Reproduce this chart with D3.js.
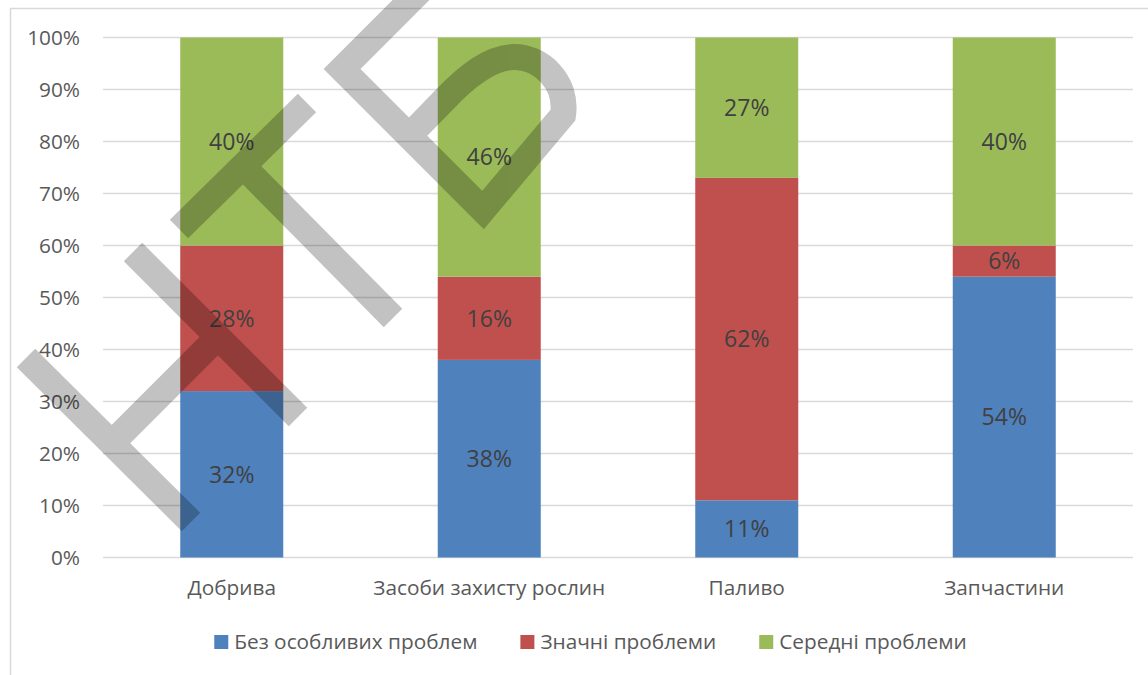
<!DOCTYPE html>
<html>
<head>
<meta charset="utf-8">
<script src="https://cdn.jsdelivr.net/npm/d3@7"></script>
<style>
  html, body { margin: 0; padding: 0; background: #fff; }
  svg { display: block; }
  text { font-family: "Open Sans", "Noto Sans", sans-serif; }
</style>
</head>
<body>
<svg id="chart" width="1148" height="675"></svg>
<script>
// ---- data ----
const categories = ["Добрива", "Засоби захисту рослин", "Паливо", "Запчастини"];
const seriesNames = ["Без особливих проблем", "Значні проблеми", "Середні проблеми"];
const noProblems = [32, 38, 11, 54];
const significantProblems = [28, 16, 62, 6];
const mediumProblems = [40, 46, 27, 40];
const yTickValues = [0, 10, 20, 30, 40, 50, 60, 70, 80, 90, 100];
const seriesColors = ["#4F81BD", "#C0504D", "#9BBB59"];

const rows = categories.map((c, i) => ({
  category: c,
  s0: noProblems[i],
  s1: significantProblems[i],
  s2: mediumProblems[i]
}));
const keys = ["s0", "s1", "s2"];

const svg = d3.select("#chart");
const W = 1148, H = 675;
const plot = { left: 103, right: 1133, top: 37.5, bottom: 557.5 };

// chart border
svg.append("rect")
  .attr("x", 10.5).attr("y", 8.5)
  .attr("width", W + 40).attr("height", H + 40)
  .attr("fill", "#fff").attr("stroke", "#d9d9d9").attr("stroke-width", 1.5);

const x = d3.scaleBand().domain(categories)
  .range([plot.left, plot.right]).paddingInner(0.6).paddingOuter(0.3);
const y = d3.scaleLinear().domain([0, 100]).range([plot.bottom, plot.top]);

// gridlines
svg.append("g").selectAll("line").data(yTickValues).join("line")
  .attr("x1", plot.left).attr("x2", plot.right)
  .attr("y1", d => y(d)).attr("y2", d => y(d))
  .attr("stroke", "#d9d9d9").attr("stroke-width", 1.5);

// y axis labels
const yAxis = d3.axisLeft(y).tickValues(yTickValues).tickFormat(d => d + "%").tickSize(0).tickPadding(0);
const yg = svg.append("g").attr("transform", "translate(80,0)").call(yAxis);
yg.select(".domain").remove();
yg.selectAll("text")
  .attr("font-family", "'Open Sans', sans-serif")
  .attr("font-size", 20.8).attr("fill", "#595959").attr("dy", "0.35em");

// bars
const stacked = d3.stack().keys(keys)(rows);
const layers = svg.append("g").selectAll("g").data(stacked).join("g")
  .attr("fill", (d, i) => seriesColors[i]);
layers.selectAll("rect").data(d => d).join("rect")
  .attr("x", d => x(d.data.category))
  .attr("width", x.bandwidth())
  .attr("y", d => y(d[1]))
  .attr("height", d => y(d[0]) - y(d[1]));

// data labels
layers.selectAll("text").data(d => d).join("text")
  .attr("x", d => x(d.data.category) + x.bandwidth() / 2)
  .attr("y", d => y((d[0] + d[1]) / 2))
  .attr("dy", "0.36em")
  .attr("text-anchor", "middle")
  .attr("font-size", 23)
  .attr("fill", "#404040")
  .text(d => (d[1] - d[0]) + "%");

// category labels
const xAxis = d3.axisBottom(x).tickSize(0).tickPadding(0);
const xg = svg.append("g").attr("transform", "translate(0,588)").call(xAxis);
xg.select(".domain").remove();
xg.selectAll("text")
  .attr("font-family", "'Open Sans', sans-serif")
  .attr("font-size", 20.8).attr("fill", "#595959").attr("dy", "0.35em");

// legend
const legend = svg.append("g");
const items = legend.selectAll("g").data(seriesNames).join("g");
items.append("rect").attr("width", 14).attr("height", 14).attr("y", -7)
  .attr("fill", (d, i) => seriesColors[i]);
items.append("text").attr("x", 20).attr("dy", "0.35em")
  .attr("font-size", 20.8).attr("fill", "#595959").text(d => d);
const widths = [];
items.each(function () { widths.push(20 + this.querySelector("text").getComputedTextLength()); });
const gap = 43;
const total = d3.sum(widths) + gap * (widths.length - 1);
let cx = 590.5 - total / 2;
items.attr("transform", (d, i) => {
  const t = `translate(${cx},642)`;
  cx += widths[i] + gap;
  return t;
});

// watermark (decorative overlay)
const wm = svg.append("g").attr("opacity", 0.235)
  .attr("fill", "none").attr("stroke", "#000").attr("stroke-width", 26)
  .attr("stroke-linejoin", "miter").attr("stroke-linecap", "butt");
const wmPaths = [
  "M26,358 L191,522",
  "M133,252 L298,417",
  "M218,337 L111,444",
  "M179,229 L307,103",
  "M243,166 L393,318",
  "M430,-19 L342,69 L483,210 L563,115 C568,82 540,56 513,57 C490,58 468,75 445,99 L409,136"
];
wm.selectAll("path").data(wmPaths).join("path").attr("d", d => d);
</script>
</body>
</html>
